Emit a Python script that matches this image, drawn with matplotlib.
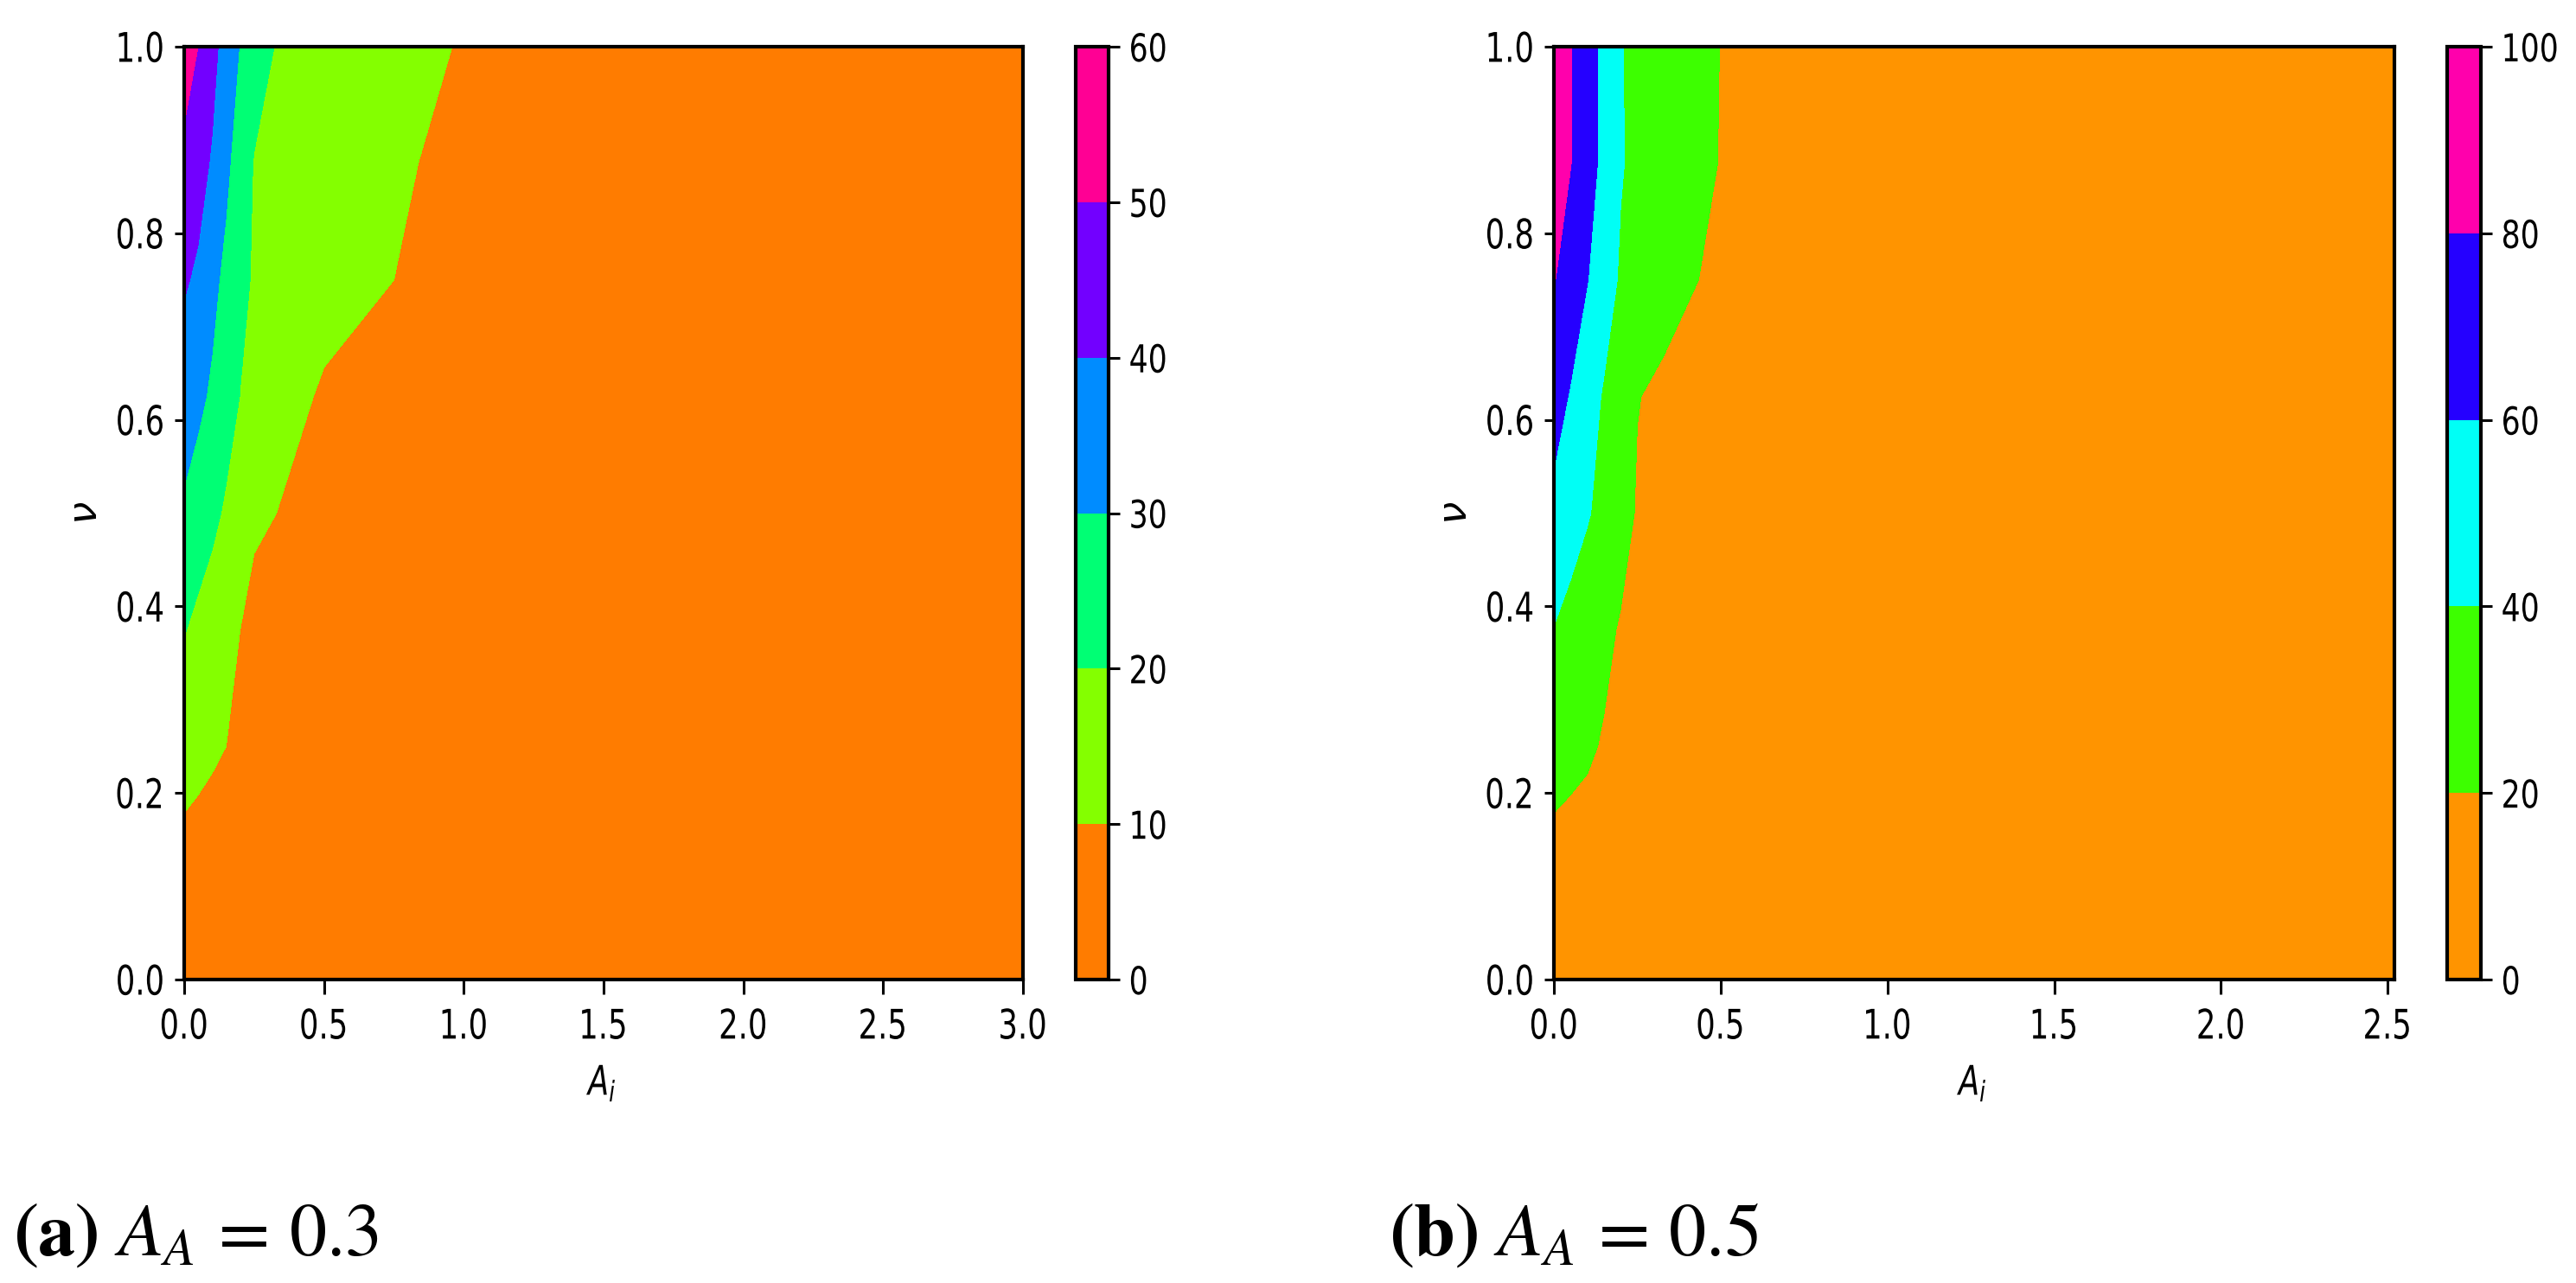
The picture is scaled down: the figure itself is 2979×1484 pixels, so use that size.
import matplotlib
matplotlib.use("Agg")
import matplotlib.pyplot as plt
import numpy as np
from matplotlib.patheffects import AbstractPathEffect
from matplotlib.transforms import Affine2D

# grid: nu rows, A_i columns
nu = [0, 0.125, 0.25, 0.375, 0.5, 0.625, 0.75, 0.875, 1.0]

# (a) A_A = 0.3
ai_a = [0, 0.05, 0.1, 0.15, 0.2, 0.25, 0.33, 0.5, 0.75, 1.0, 1.5, 2.0, 2.5, 3.0]
z_a = [
    [2, 2, 2, 1.5, 1.5, 1.5, 1.5, 1, 1, 1, 1, 0.5, 0.5, 0.5],
    [7, 6.5, 6, 5.5, 5, 4.5, 4, 3.5, 3, 2.5, 2, 1.5, 1.5, 1],
    [14, 12.5, 11.2, 10, 8.8, 8, 7, 5, 4, 3.5, 2.5, 2, 2, 1.5],
    [20.5, 17.5, 14.5, 12, 10, 8.5, 7, 5.5, 4.5, 3.5, 3, 2.5, 2, 2],
    [28.5, 25.5, 22.5, 18.5, 15, 10.8, 10, 7.5, 5.5, 4.5, 3.5, 3, 2.5, 2],
    [35, 32, 28.5, 24.5, 19.8, 16, 13.5, 9, 7, 6, 4.5, 3.5, 3, 2.5],
    [41, 38.5, 32.5, 27.5, 22.5, 19, 16.5, 13, 10, 8, 5.5, 4, 3, 2.5],
    [47, 43.5, 39, 32, 25, 19.5, 17.5, 14, 10.8, 8.5, 6, 4.5, 3.5, 3],
    [56, 50, 43, 36, 29.5, 24.5, 19.5, 16, 12.5, 9.5, 7, 5, 4, 3],
]
levels_a = [0, 10, 20, 30, 40, 50, 60]

# (b) A_A = 0.5
ai_b = [0, 0.05, 0.1, 0.15, 0.2, 0.25, 0.33, 0.5, 0.75, 1.0, 1.5, 2.0, 2.52]
z_b = [
    [4, 3.5, 3.5, 3, 3, 3, 2.5, 2, 2, 1.5, 1, 1, 1],
    [14, 13, 12, 11, 10, 9, 8, 6, 4.5, 3.5, 2.5, 2, 1.5],
    [28, 25, 22.5, 18.5, 15.5, 13, 10.5, 7.5, 5, 4, 3, 2.5, 2],
    [39.5, 34, 29, 24, 18.5, 15, 12, 8.5, 6, 4.5, 3.5, 3, 2.5],
    [55, 48, 41.5, 34.5, 27, 18.5, 14.5, 10, 7, 5.5, 4, 3.5, 3],
    [68, 58.5, 49, 38, 28.5, 20.5, 17, 12, 8.5, 6.5, 5, 4, 3.5],
    [81, 71, 60.5, 50, 37.5, 31, 25.5, 16.5, 11, 8.5, 6.5, 5, 4],
    [87, 80.5, 68, 55, 41.5, 35, 29, 19.5, 13.5, 10.5, 7.5, 5.5, 4.5],
    [92, 81, 68, 55, 41, 35, 29, 19.8, 14, 11, 8, 6, 5],
]
levels_b = [0, 20, 40, 60, 80, 100]


class Squeeze(AbstractPathEffect):
    # the labels in the source figure are horizontally narrowed
    def __init__(self, sx=0.75, anchor="center"):
        super().__init__()
        self.sx = sx
        self.anchor = anchor

    def draw_path(self, renderer, gc, tpath, affine, rgbFace=None):
        v = tpath.vertices
        if len(v) == 0:
            return
        lo, hi = v[:, 0].min(), v[:, 0].max()
        a = {"left": lo, "center": (lo + hi) / 2, "right": hi}[self.anchor]
        sq = Affine2D().translate(-a, 0).scale(self.sx, 1).translate(a, 0)
        renderer.draw_path(gc, tpath, sq + affine, rgbFace)


W, H = 2979, 1484
fig = plt.figure(figsize=(W / 100, H / 100), dpi=100)


def px(x0, y0, w, h):
    # pixel box (top-left origin) -> figure fraction
    return [x0 / W, 1 - (y0 + h) / H, w / W, h / H]


panels = [
    (ai_a, z_a, levels_a, 3.0, px(213, 54, 970, 1079), px(1244, 54, 38, 1079),
     r"$\mathbf{(a)}\ A_A \,=\, 0.3$", 15),
    (ai_b, z_b, levels_b, 2.52, px(1797, 54, 972, 1079), px(2830, 54, 39, 1079),
     r"$\mathbf{(b)}\ A_A \,=\, 0.5$", 1606),
]

SX = 0.75
for ai, z, levels, xmax, box, cbox, caption, cx in panels:
    ax = fig.add_axes(box)
    X, Y = np.meshgrid(ai, nu)
    cs = ax.contourf(X, Y, np.array(z), levels=levels, cmap="hsv")
    ax.set_xlim(0, xmax)
    ax.set_ylim(0, 1)
    ax.set_xticks(np.arange(0, xmax + 0.01, 0.5))
    ax.set_yticks([0, 0.2, 0.4, 0.6, 0.8, 1.0])
    ax.xaxis.set_major_formatter(plt.FormatStrFormatter("%.1f"))
    ax.yaxis.set_major_formatter(plt.FormatStrFormatter("%.1f"))
    ax.tick_params(axis="x", length=12, width=2.2, pad=12, labelsize=34)
    ax.tick_params(axis="y", length=8, width=2.2, pad=8, labelsize=34)
    for s in ax.spines.values():
        s.set_linewidth(3)
    for t in ax.xaxis.get_major_ticks():
        t.label1.set_path_effects([Squeeze(SX, "center")])
    for t in ax.yaxis.get_major_ticks():
        t.label1.set_path_effects([Squeeze(SX, "right")])
    xl = ax.set_xlabel(r"$A_i$", fontsize=34, labelpad=14)
    xl.set_path_effects([Squeeze(SX, "center")])
    ax.set_ylabel(r"$\nu$", fontsize=34)
    ax.yaxis.set_label_coords(-0.094, 0.5)

    cax = fig.add_axes(cbox)
    cb = fig.colorbar(cs, cax=cax, ticks=levels)
    cb.outline.set_linewidth(3)
    cax.tick_params(length=9, width=2.2, pad=8, labelsize=32)
    for t in cax.yaxis.get_major_ticks():
        t.label2.set_path_effects([Squeeze(0.78, "left")])

    fig.text(cx / W, 1 - 1452 / H, caption, fontsize=62, math_fontfamily="stix",
             ha="left", va="baseline")

fig.savefig("out.png", dpi=100)
